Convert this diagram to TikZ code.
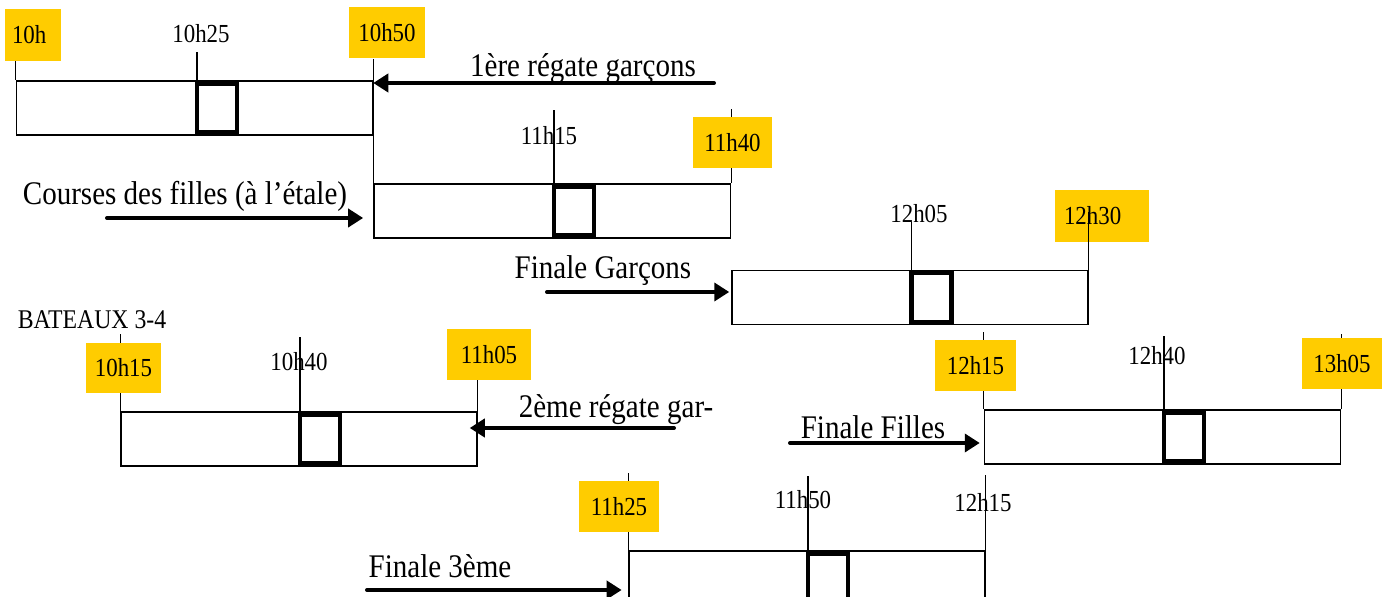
\documentclass[tikz,border=0pt]{standalone}
\usepackage{fontspec}
\setmainfont{Liberation Serif}[FakeStretch=0.88]
\usetikzlibrary{arrows.meta}
\definecolor{gold}{HTML}{FFCC00}
\tikzset{
	bar/.style={draw, line width=0.75pt, minimum width=178pt, minimum height=27pt, inner sep=0pt},
	slot/.style={draw, line width=2.4pt, minimum width=20pt, minimum height=24.5pt, inner sep=0pt, outer sep=0pt},
	tick/.style={line width=0.7pt},
	hour/.style={fill=gold, minimum width=40pt, minimum height=25.5pt, inner sep=0pt, font=\fontsize{13}{15}\selectfont},
	stamp/.style={anchor=base, inner sep=0pt, font=\fontsize{13}{15}\selectfont},
	caption/.style={anchor=base, inner sep=0pt, font=\fontsize{16.5}{19}\selectfont},
	go/.style={line width=2pt, line cap=round, -{Triangle[length=7.5pt,width=9pt]}}
}
\begin{document}
\begin{tikzpicture}[x=0.5pt,y=-0.5pt]
	\useasboundingbox (0,0) rectangle (1382,597);
	%BARS
	\node[bar] (b1) at (194.5,108) {};
	\node[bar] (b2) at (552.5,211) {};
	\node[bar] (b3) at (910,297.5) {};
	\node[bar] (b4) at (299,439) {};
	\node[bar] (b5) at (1162.5,437) {};
	\node[bar] (b6) at (807,578) {};
	%SLOTS
	\node[slot] (s1) at (217,108) {};
	\node[slot] (s2) at (574,211) {};
	\node[slot] (s3) at (931.7,297.5) {};
	\node[slot] (s4) at (320,439) {};
	\node[slot] (s5) at (1184,437) {};
	\node[slot] (s6) at (828,578) {};
	
	%TICKS
	\draw[tick] (b1.north west) -- +(0,-19);
	\draw[tick] (s1.north west) -- +(0,-31.5);
	\draw[tick] (b2.south west) -- +(0,-180); %10h50 down to bar 2
	\draw[tick] (s2.north west) -- +(0,-76.5);
	\draw[tick] (b2.north east) -- +(0,-74);
	\draw[tick] (s3.north west) -- +(0,-51);
	\draw[tick] (b4.north west) -- +(0,-77);
	\draw[tick] (s4.north west) -- +(0,-77.5);
	\draw[tick] (b4.north east) -- +(0,-42);
	\draw[tick] (b5.north west) -- +(0,-77);
	\draw[tick] (s5.north west) -- +(0,-76.5);
	\draw[tick] (b5.north east) -- +(0,-75);
	\draw[tick] (b6.north west) -- +(0,-77);
	\draw[tick] (s6.north west) -- +(0,-77.5);
	\draw[tick] (b6.north east) -- +(0,-75);
	
	%HOURS
	\node[hour, minimum width=28pt, minimum height=26pt, text width=21pt, align=left, inner xsep=3.5pt] (h10) at (33,35) {10h};
	\node[hour, minimum width=38pt] (h1050) at (387,32.5) {10h50};
	\node[hour, minimum width=39.5pt] (h1140) at (732.5,142.5) {11h40};
	\node[hour, minimum height=26pt, text width=38pt, align=left, inner xsep=4.5pt] (h1230) at (1102,216) {12h30};
	\node[hour, minimum width=37.5pt, minimum height=25pt] (h1015) at (123.5,368) {10h15};
	\node[hour, minimum width=42pt] (h1105) at (489,354.5) {11h05};
	\node[hour, minimum width=40.5pt] (h1215) at (975.5,365.5) {12h15};
	\node[hour] (h1305) at (1342,363.5) {13h05};
	\node[hour] (h1125) at (619,506.5) {11h25};
	\draw[tick] (b3.north east) -- +(0,-58); %over the 12h30 box
	
	%PLAIN TIMES
	\node[stamp] (t1025) at (201,43) {10h25};
	\node[stamp] (t1115) at (549,145) {11h15};
	\node[stamp] (t1205) at (919,223) {12h05};
	\node[stamp] (t1040) at (299,371) {10h40};
	\node[stamp] (t1240) at (1157,365) {12h40};
	\node[stamp] (t1150) at (803,509) {11h50};
	\node[stamp] (t1215) at (983,512) {12h15};
	
	%CAPTIONS
	\node[caption] (c1) at (583,77) {1ère régate garçons};
	\node[caption] (c2) at (185,205) {Courses des filles (à l’étale)};
	\node[caption] (c3) at (603,279) {Finale Garçons};
	\node[caption] (c4) at (616,418) {2ème régate gar-};
	\node[caption] (c5) at (873,439) {Finale Filles};
	\node[caption] (c6) at (440,578) {Finale 3ème};
	\node[caption, font=\fontsize{13.5}{16}\selectfont] (boats) at (92,329) {BATEAUX 3-4};
	
	%ARROWS
	\coordinate (a1) at (714,83);
	\coordinate (a2) at (107,218);
	\coordinate (a3) at (547,292);
	\coordinate (a4) at (674,428);
	\coordinate (a5) at (790,443);
	\coordinate (a6) at (367,590);
	\draw[go] (a1) -- (a1 -| b1.east);
	\draw[go, shorten >=5.3pt] (a2) -- (a2 -| b2.west);
	\draw[go, shorten >=1pt] (a3) -- (a3 -| b3.west);
	\draw[go, shorten >=-4pt] (a4) -- (a4 -| b4.east);
	\draw[go, shorten >=2pt] (a5) -- (a5 -| b5.west);
	\draw[go, shorten >=3.3pt] (a6) -- (a6 -| b6.west);
\end{tikzpicture}
\end{document}
